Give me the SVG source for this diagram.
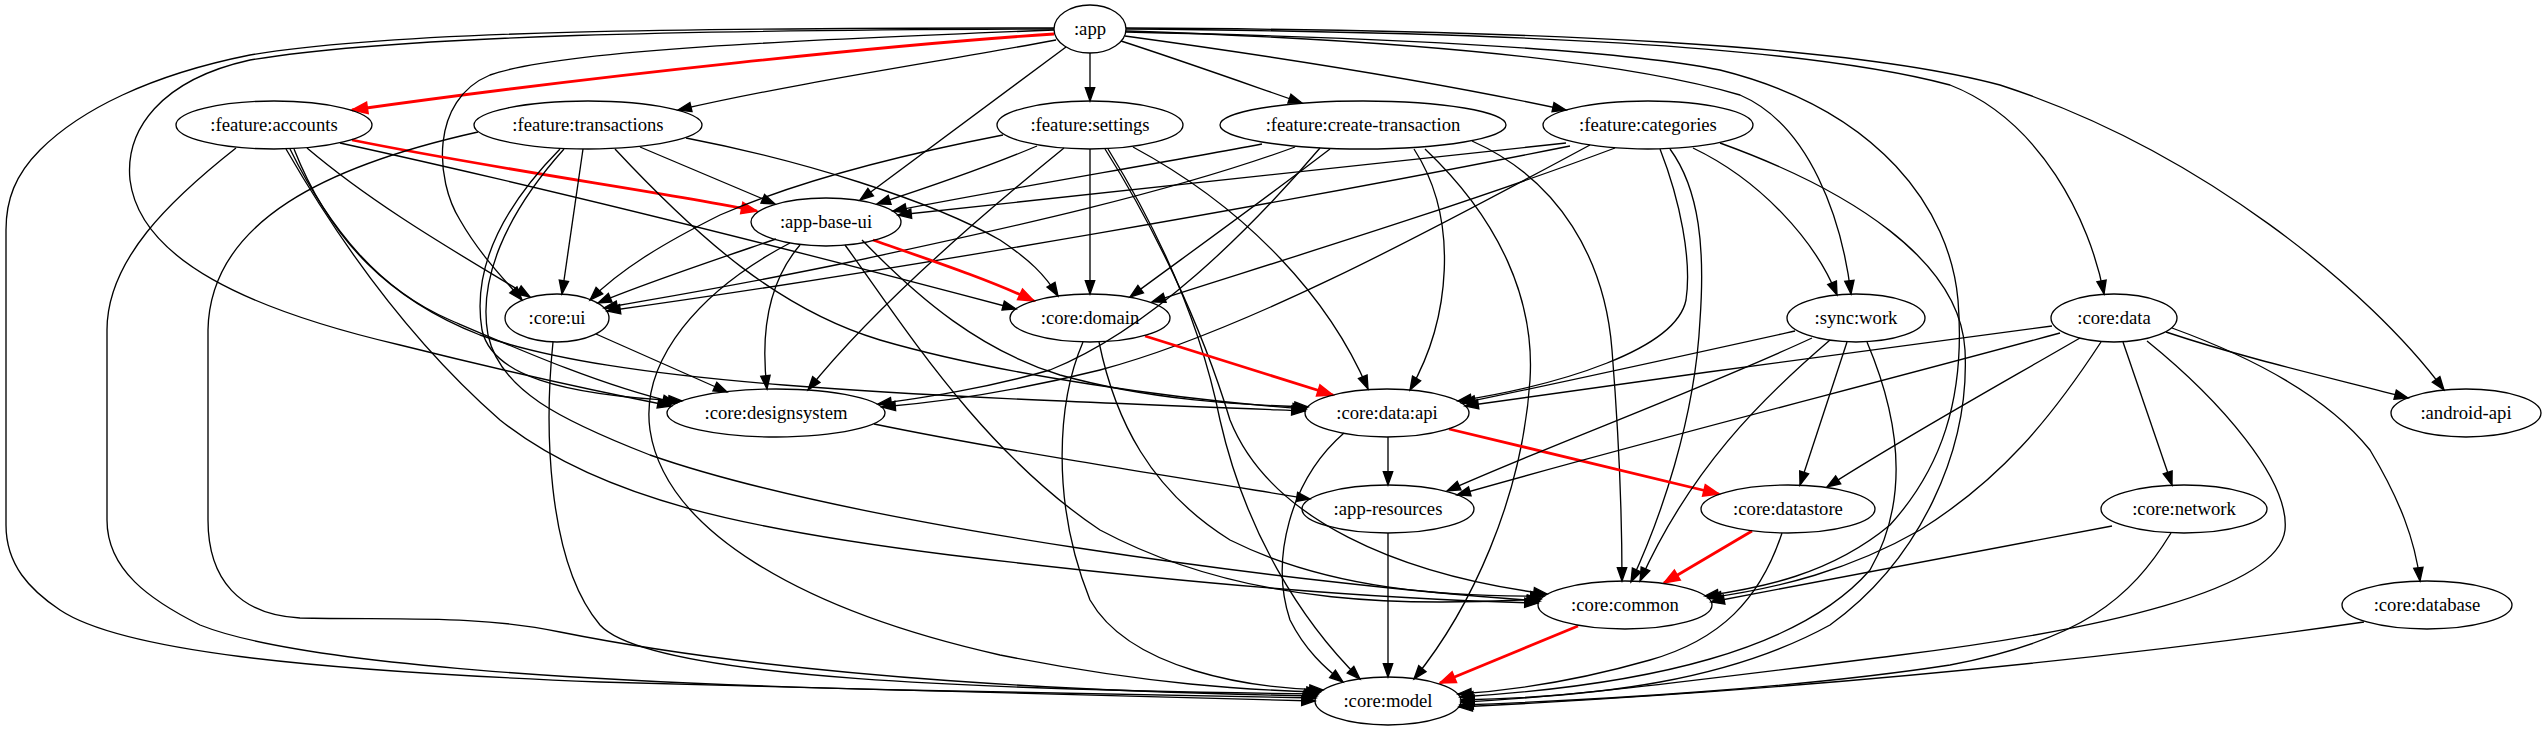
<svg xmlns="http://www.w3.org/2000/svg" width="2547" height="731" viewBox="0 0 2547 731">
<style>
.n ellipse{fill:none;stroke:#000;stroke-width:1.33}
.n text{font-family:"Liberation Serif","Times New Roman",serif;font-size:18.67px;text-anchor:middle;fill:#000}
.e{fill:none;stroke:#000;stroke-width:1.33;marker-end:url(#ab)}
.r{fill:none;stroke:#f00;stroke-width:2.8;marker-end:url(#ar)}
</style>
<defs>
<marker id="ab" markerUnits="userSpaceOnUse" markerWidth="16" markerHeight="12" refX="13.3" refY="4.7" orient="auto" overflow="visible"><path d="M0,0 L13.3,4.7 L0,9.4 z" fill="#000" stroke="#000" stroke-width="1.33"/></marker>
<marker id="ar" markerUnits="userSpaceOnUse" markerWidth="20" markerHeight="14" refX="15.5" refY="5.8" orient="auto" overflow="visible"><path d="M0,0 L15.5,5.8 L0,11.6 z" fill="#f00" stroke="#f00" stroke-width="1.5"/></marker>
</defs>
<rect width="2547" height="731" fill="#fff"/>
<g id="connectors">
<path class="r" d="M1054,34 C900,44 600,75 352,110"/>
<path class="e" d="M1056,40 C950,60 800,82 678,110"/>
<path class="e" d="M1090,53 L1090,101"/>
<path class="e" d="M1121,41 C1180,60 1250,85 1302,103"/>
<path class="e" d="M1125,36 C1300,60 1450,85 1566,110"/>
<path class="e" d="M1066,47 L860,200"/>
<path class="e" d="M1054,30 C800,40 560,50 490,75 C430,100 435,180 460,220 C480,255 505,280 522,300"/>
<path class="e" d="M1054,29 C700,30 400,35 250,60 C160,80 125,130 130,180 C140,260 250,310 400,345 C500,370 600,392 671,406"/>
<path class="e" d="M1054,28 C700,28 400,30 250,55 C150,75 80,110 40,150 C15,175 6,200 6,230 L6,525 C6,565 30,590 60,610 C120,650 300,670 600,682 C900,692 1150,698 1315,701"/>
<path class="e" d="M1126,31 C1400,40 1620,60 1740,95 C1810,125 1842,220 1851,294"/>
<path class="e" d="M1126,29 C1500,32 1800,45 1950,85 C2040,120 2090,220 2104,294"/>
<path class="e" d="M1126,28 C1550,30 1850,45 2000,85 C2200,150 2370,290 2444,390"/>
<path class="e" d="M1126,32 C1400,38 1620,50 1720,70 C1880,110 1950,210 1958,300 C1966,400 1940,470 1890,525 C1830,575 1760,588 1705,596"/>
<path class="r" d="M352,140 C500,170 650,190 757,211"/>
<path class="e" d="M307,148 C380,210 470,260 530,297"/>
<path class="e" d="M340,143 C600,200 850,265 1016,309"/>
<path class="e" d="M290,149 C330,230 380,290 450,320 C520,350 600,385 676,403"/>
<path class="e" d="M294,149 C330,240 390,300 480,335 C620,385 900,395 1305,411"/>
<path class="e" d="M286,149 C350,260 420,350 500,420 C600,500 750,530 950,555 C1200,585 1400,600 1538,603"/>
<path class="e" d="M236,148 C170,200 107,260 107,330 L107,520 C107,570 150,600 200,625 C300,665 600,683 900,690 C1100,695 1250,697 1316,698"/>
<path class="e" d="M478,132 C330,165 210,220 208,330 L208,520 C208,580 240,615 300,618 C400,620 480,615 560,632 C800,680 1100,692 1317,696"/>
<path class="e" d="M583,149 L562,294"/>
<path class="e" d="M640,147 L775,204"/>
<path class="e" d="M686,138 C800,160 930,200 1000,240 C1030,260 1045,275 1058,296"/>
<path class="e" d="M560,149 C500,210 472,270 482,330 C492,375 560,395 682,401"/>
<path class="e" d="M564,149 C505,215 478,280 488,335 C500,390 560,420 650,455 C850,525 1300,585 1540,601"/>
<path class="e" d="M615,149 C700,240 780,310 880,340 C1000,375 1180,400 1306,409"/>
<path class="e" d="M1003,135 C900,155 800,180 720,215 C660,245 620,270 590,300"/>
<path class="e" d="M1037,146 C980,170 920,190 877,204"/>
<path class="e" d="M1064,148 C1000,200 880,300 808,390"/>
<path class="e" d="M1090,149 L1090,294"/>
<path class="e" d="M1105,149 C1150,220 1200,320 1230,420 C1270,520 1400,575 1547,594"/>
<path class="e" d="M1108,149 C1155,225 1200,320 1220,420 C1245,530 1300,620 1360,679"/>
<path class="e" d="M1133,147 C1250,210 1330,300 1368,389"/>
<path class="e" d="M1262,144 C1150,165 1000,190 893,211"/>
<path class="e" d="M1295,147 C1150,200 950,240 850,262 C750,283 660,298 604,308"/>
<path class="e" d="M1330,149 C1250,210 1180,260 1130,297"/>
<path class="e" d="M1320,148 C1250,230 1150,330 1050,370 C980,390 920,398 878,404"/>
<path class="e" d="M1414,149 C1460,220 1450,320 1410,390"/>
<path class="e" d="M1472,141 C1560,180 1605,260 1612,350 C1620,450 1622,530 1622,581"/>
<path class="e" d="M1425,149 C1500,220 1535,300 1530,380 C1522,500 1470,610 1414,679"/>
<path class="e" d="M1566,143 C1300,170 1050,200 898,215"/>
<path class="e" d="M1570,146 C1300,200 900,270 607,311"/>
<path class="e" d="M1615,148 C1450,210 1250,270 1152,302"/>
<path class="e" d="M1590,145 C1450,220 1250,330 1100,370 C1000,395 930,403 882,407"/>
<path class="e" d="M1660,149 C1680,200 1692,260 1686,300 C1676,350 1560,385 1458,401"/>
<path class="e" d="M1670,149 C1700,190 1705,250 1700,320 C1695,420 1660,520 1631,582"/>
<path class="e" d="M1693,148 C1760,180 1815,240 1837,295"/>
<path class="e" d="M1720,143 C1850,190 1960,260 1965,350 C1970,450 1920,560 1830,625 C1730,680 1600,697 1461,700"/>
<path class="r" d="M873,240 C930,260 990,280 1034,301"/>
<path class="e" d="M776,239 C700,265 640,285 598,303"/>
<path class="e" d="M800,245 C770,280 760,330 767,389"/>
<path class="e" d="M790,243 C700,290 640,360 650,430 C665,530 800,610 1000,655 C1150,685 1250,690 1320,692"/>
<path class="e" d="M845,245 C900,320 980,450 1100,530 C1250,610 1420,605 1541,599"/>
<path class="e" d="M862,240 C920,300 980,350 1060,375 C1150,400 1240,405 1308,407"/>
<path class="e" d="M596,334 L727,392"/>
<path class="e" d="M553,342 C545,420 545,560 600,625 C650,680 1000,690 1318,694"/>
<path class="r" d="M1145,336 L1333,395"/>
<path class="e" d="M1099,342 C1115,420 1150,490 1230,540 C1330,590 1450,597 1544,596"/>
<path class="e" d="M1083,342 C1058,400 1050,500 1090,600 C1130,670 1250,688 1323,690"/>
<path class="e" d="M874,424 C1000,450 1180,478 1310,499"/>
<path class="e" d="M1388,437 L1388,485"/>
<path class="r" d="M1449,429 L1719,494"/>
<path class="e" d="M1344,433 C1290,480 1270,560 1290,620 C1305,650 1325,668 1343,682"/>
<path class="e" d="M1388,533 L1388,677"/>
<path class="r" d="M1752,531 L1664,583"/>
<path class="e" d="M1782,533 C1760,600 1720,640 1650,660 C1580,680 1520,690 1458,694"/>
<path class="e" d="M1795,331 C1700,352 1560,383 1462,403"/>
<path class="e" d="M1812,338 C1700,390 1550,445 1447,491"/>
<path class="e" d="M1847,342 L1800,485"/>
<path class="e" d="M1830,340 C1760,400 1690,470 1640,581"/>
<path class="e" d="M1867,342 C1900,420 1910,500 1870,570 C1800,650 1650,685 1460,697"/>
<path class="e" d="M2052,326 C1900,345 1650,380 1465,406"/>
<path class="e" d="M2060,333 C1850,390 1650,440 1457,495"/>
<path class="e" d="M2080,338 C1990,390 1900,440 1827,487"/>
<path class="e" d="M2101,342 C2050,420 2000,480 1920,530 C1850,570 1780,588 1708,598"/>
<path class="e" d="M2123,342 L2172,485"/>
<path class="e" d="M2147,341 C2220,400 2290,480 2285,530 C2278,590 2100,630 1900,655 C1700,680 1560,698 1461,702"/>
<path class="e" d="M2166,332 C2250,360 2340,380 2408,398"/>
<path class="e" d="M2172,328 C2260,360 2330,400 2370,450 C2400,500 2415,540 2420,581"/>
<path class="e" d="M2112,526 L1711,602"/>
<path class="e" d="M2171,533 C2130,600 2080,640 1950,665 C1800,688 1600,700 1460,705"/>
<path class="e" d="M2364,622 C2100,660 1800,690 1459,707"/>
<path class="r" d="M1578,626 L1440,683"/>
</g>
<g id="node-app" class="n"><ellipse cx="1090" cy="29" rx="36" ry="24"/><text x="1090" y="35">:app</text></g>
<g id="node-feature-accounts" class="n"><ellipse cx="274" cy="125" rx="98" ry="24"/><text x="274" y="131">:feature:accounts</text></g>
<g id="node-feature-transactions" class="n"><ellipse cx="588" cy="125" rx="114" ry="24"/><text x="588" y="131">:feature:transactions</text></g>
<g id="node-feature-settings" class="n"><ellipse cx="1090" cy="125" rx="93" ry="24"/><text x="1090" y="131">:feature:settings</text></g>
<g id="node-feature-create-transaction" class="n"><ellipse cx="1363" cy="125" rx="143" ry="24"/><text x="1363" y="131">:feature:create-transaction</text></g>
<g id="node-feature-categories" class="n"><ellipse cx="1648" cy="125" rx="105" ry="24"/><text x="1648" y="131">:feature:categories</text></g>
<g id="node-app-base-ui" class="n"><ellipse cx="826" cy="222" rx="75" ry="24"/><text x="826" y="228">:app-base-ui</text></g>
<g id="node-core-ui" class="n"><ellipse cx="557" cy="318" rx="52" ry="24"/><text x="557" y="324">:core:ui</text></g>
<g id="node-core-domain" class="n"><ellipse cx="1090" cy="318" rx="80" ry="24"/><text x="1090" y="324">:core:domain</text></g>
<g id="node-sync-work" class="n"><ellipse cx="1856" cy="318" rx="69" ry="24"/><text x="1856" y="324">:sync:work</text></g>
<g id="node-core-data" class="n"><ellipse cx="2114" cy="318" rx="63" ry="24"/><text x="2114" y="324">:core:data</text></g>
<g id="node-core-designsystem" class="n"><ellipse cx="776" cy="413" rx="109" ry="24"/><text x="776" y="419">:core:designsystem</text></g>
<g id="node-core-data-api" class="n"><ellipse cx="1387" cy="413" rx="82" ry="24"/><text x="1387" y="419">:core:data:api</text></g>
<g id="node-android-api" class="n"><ellipse cx="2466" cy="413" rx="75" ry="24"/><text x="2466" y="419">:android-api</text></g>
<g id="node-app-resources" class="n"><ellipse cx="1388" cy="509" rx="86" ry="24"/><text x="1388" y="515">:app-resources</text></g>
<g id="node-core-datastore" class="n"><ellipse cx="1788" cy="509" rx="87" ry="24"/><text x="1788" y="515">:core:datastore</text></g>
<g id="node-core-network" class="n"><ellipse cx="2184" cy="509" rx="83" ry="24"/><text x="2184" y="515">:core:network</text></g>
<g id="node-core-common" class="n"><ellipse cx="1625" cy="605" rx="87" ry="24"/><text x="1625" y="611">:core:common</text></g>
<g id="node-core-database" class="n"><ellipse cx="2427" cy="605" rx="85" ry="24"/><text x="2427" y="611">:core:database</text></g>
<g id="node-core-model" class="n"><ellipse cx="1388" cy="701" rx="73" ry="24"/><text x="1388" y="707">:core:model</text></g>
</svg>
